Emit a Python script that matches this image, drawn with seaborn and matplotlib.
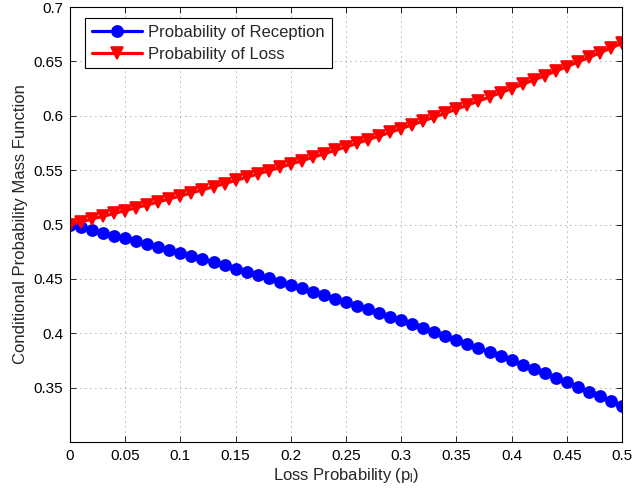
import numpy as np
import pandas as pd
import matplotlib
matplotlib.use("Agg")
import matplotlib.pyplot as plt
import seaborn as sns

loss_prob = [round(0.01 * i, 2) for i in range(51)]
p_loss = [0.5000, 0.5025, 0.5051, 0.5076, 0.5102, 0.5128, 0.5155, 0.5181, 0.5208, 0.5236,
          0.5263, 0.5291, 0.5319, 0.5348, 0.5376, 0.5405, 0.5435, 0.5464, 0.5495, 0.5525,
          0.5556, 0.5587, 0.5618, 0.5650, 0.5682, 0.5714, 0.5747, 0.5780, 0.5814, 0.5848,
          0.5882, 0.5917, 0.5952, 0.5988, 0.6024, 0.6061, 0.6098, 0.6135, 0.6173, 0.6211,
          0.6250, 0.6289, 0.6329, 0.6369, 0.6410, 0.6452, 0.6494, 0.6536, 0.6579, 0.6623,
          0.6667]
p_reception = [0.5000, 0.4975, 0.4949, 0.4924, 0.4898, 0.4872, 0.4845, 0.4819, 0.4792, 0.4764,
               0.4737, 0.4709, 0.4681, 0.4652, 0.4624, 0.4595, 0.4565, 0.4536, 0.4505, 0.4475,
               0.4444, 0.4413, 0.4382, 0.4350, 0.4318, 0.4286, 0.4253, 0.4220, 0.4186, 0.4152,
               0.4118, 0.4083, 0.4048, 0.4012, 0.3976, 0.3939, 0.3902, 0.3865, 0.3827, 0.3789,
               0.3750, 0.3711, 0.3671, 0.3631, 0.3590, 0.3548, 0.3506, 0.3464, 0.3421, 0.3377,
               0.3333]
series_names = ["Probability of Reception", "Probability of Loss"]
xticks = [0, 0.05, 0.1, 0.15, 0.2, 0.25, 0.3, 0.35, 0.4, 0.45, 0.5]
xticklabels = ["0", "0.05", "0.1", "0.15", "0.2", "0.25", "0.3", "0.35", "0.4", "0.45", "0.5"]
yticks = [0.35, 0.4, 0.45, 0.5, 0.55, 0.6, 0.65, 0.7]
yticklabels = ["0.35", "0.4", "0.45", "0.5", "0.55", "0.6", "0.65", "0.7"]

df = pd.DataFrame({
    "x": loss_prob * 2,
    "y": p_reception + p_loss,
    "series": [series_names[0]] * len(loss_prob) + [series_names[1]] * len(loss_prob),
})

sns.set_style("white")
plt.rcParams["font.family"] = ["Liberation Sans", "DejaVu Sans"]
plt.rcParams["mathtext.fontset"] = "custom"
plt.rcParams["mathtext.rm"] = "Liberation Sans"
plt.rcParams["mathtext.it"] = "Liberation Sans"

fig = plt.figure(figsize=(6.33, 4.93), dpi=100)
ax = fig.add_axes([0.1106, 0.1034, 0.8720, 0.8824])

sns.lineplot(data=df, x="x", y="y", hue="series", style="series",
             palette={series_names[0]: "#0000ff", series_names[1]: "#ff0000"},
             markers={series_names[0]: "o", series_names[1]: "v"},
             dashes=False, linewidth=2.3, markersize=8, markeredgewidth=1.2,
             ax=ax, legend=True)
for line in ax.lines:
    line.set_markeredgecolor(line.get_color())

ax.set_xlim(0, 0.5)
ax.set_ylim(0.3, 0.7)
ax.set_xticks(xticks)
ax.set_xticklabels(xticklabels)
ax.set_yticks(yticks)
ax.set_yticklabels(yticklabels)
ax.tick_params(direction="in", length=4, width=0.6, labelsize=11, colors="black",
               top=True, right=True, bottom=True, left=True, pad=5)
ax.grid(True, linestyle=(0, (1, 5)), color="#666666", linewidth=0.6)
for s in ax.spines.values():
    s.set_visible(True)
    s.set_color("black")
    s.set_linewidth(0.8)

ax.set_xlabel("Loss Probability (p$_\\mathregular{l}$)", fontsize=12, labelpad=2)
ax.set_ylabel("Conditional Probability Mass Function", fontsize=12, labelpad=4)

leg = ax.legend(loc="upper left", fontsize=12, frameon=True, fancybox=False,
                edgecolor="black", framealpha=1, borderpad=0.4, handlelength=3.0,
                handletextpad=0.4, labelspacing=0.4,
                bbox_to_anchor=(0.012, 0.993))
leg.get_frame().set_linewidth(0.8)

fig.savefig("out.png", dpi=100)
